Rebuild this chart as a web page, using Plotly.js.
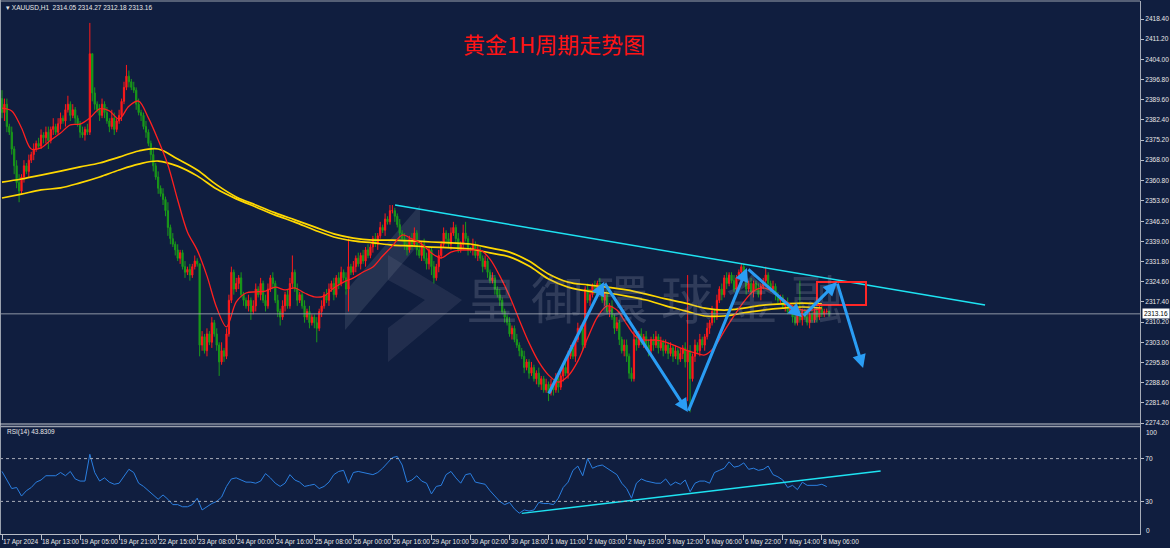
<!DOCTYPE html>
<html><head><meta charset="utf-8">
<script src="https://cdn.plot.ly/plotly-3.0.1.min.js"></script>
<style>html,body{margin:0;padding:0;background:#101e3f;overflow:hidden}#chart{width:1170px;height:548px}</style>
</head><body><div id="chart"></div>
<script>
// ---------------- DATA ----------------
const firstOpen = 2390;
const closes = [
2385,2388,2380,2378,2372,2366,2360,2357,2362,2366,2364,2368,2370,2372,2374,2373,
2377,2376,2378,2375,2379,2380,2378,2381,2383,2382,2386,2388,2384,2386,2383,2381,
2378,2377,2379,2378,2406,2392,2388,2386,2384,2388,2385,2382,2380,2383,2379,2382,
2384,2389,2394,2398,2396,2394,2393,2388,2385,2384,2380,2378,2374,2370,2366,2362,
2358,2356,2354,2350,2344,2340,2338,2336,2333,2335,2330,2328,2329,2327,2330,2332,
2331,2302,2305,2300,2306,2303,2310,2306,2302,2296,2300,2298,2306,2318,2328,2322,
2324,2326,2320,2318,2316,2318,2314,2316,2322,2320,2324,2318,2316,2322,2326,2324,
2318,2314,2312,2316,2320,2316,2324,2328,2322,2318,2320,2316,2312,2314,2310,2312,
2310,2308,2314,2316,2320,2318,2322,2324,2320,2326,2324,2328,2326,2322,2330,2328,
2330,2333,2331,2334,2332,2336,2334,2337,2340,2338,2341,2344,2343,2347,2346,2350,
2350,2348,2345,2342,2340,2338,2336,2340,2338,2342,2336,2334,2338,2333,2331,2336,
2330,2326,2330,2334,2338,2342,2340,2338,2342,2344,2340,2336,2338,2342,2340,2336,
2336,2338,2334,2336,2333,2330,2332,2328,2325,2326,2322,2320,2318,2314,2312,2310,
2306,2308,2304,2302,2300,2298,2294,2296,2292,2294,2290,2292,2288,2290,2286,2288,
2285,2288,2286,2290,2287,2291,2294,2292,2298,2301,2298,2304,2308,2308,2302,2322,
2318,2320,2323,2321,2324,2322,2318,2320,2314,2316,2312,2308,2310,2304,2300,2302,
2298,2292,2290,2304,2302,2306,2303,2305,2302,2300,2304,2302,2305,2301,2303,2300,
2302,2299,2301,2298,2300,2297,2299,2301,2296,2300,2290,2298,2302,2300,2304,2302,
2305,2308,2310,2314,2312,2318,2322,2320,2326,2324,2327,2325,2322,2326,2328,2330,
2326,2322,2324,2321,2324,2322,2320,2323,2325,2327,2324,2322,2323,2320,2318,2319,
2316,2317,2314,2315,2312,2310,2313,2311,2314,2312,2310,2313,2311,2314,2312,2315,
2313,2314,2314.05,2313.16
];
const upperWick = [
3,2,2,1,2,1,2,3,1,2,1,2,1,2,1,2,
2,1,2,2,1,3,1,2,2,1,2,3,1,2,1,1,
1,2,1,2,11,0,2,1,2,2,1,2,1,3,2,1,
2,1,2,4,2,1,2,1,2,1,1,2,1,1,2,1,
2,1,2,1,3,1,2,1,2,1,1,2,1,2,1,2,
1,0,2,1,2,1,2,1,2,1,3,1,2,2,2,1,
2,1,2,1,1,2,1,2,2,1,2,1,2,2,1,2,
1,2,1,2,1,2,2,6,1,2,1,1,2,1,2,1,
1,2,1,2,1,2,2,1,2,1,2,2,1,2,10,1,
2,1,2,1,2,1,2,1,1,2,1,2,1,2,1,2,
2,1,1,2,1,2,2,1,2,2,1,2,1,2,2,1,
1,2,1,2,1,2,1,2,2,2,1,2,1,3,4,1,
1,2,1,2,1,1,2,1,1,2,1,1,2,1,1,1,
2,1,1,2,1,1,2,1,1,2,1,1,2,1,1,2,
1,2,1,2,1,2,1,2,2,1,2,1,2,1,2,1,
2,2,1,2,1,2,2,1,2,1,2,1,2,1,1,2,
2,1,2,3,2,1,2,1,2,2,1,2,2,1,2,1,
2,1,2,1,2,1,2,1,2,27,2,1,2,1,2,1,
1,2,1,2,1,2,1,2,1,2,1,1,2,1,1,1,
1,2,1,2,1,1,2,1,1,3,1,1,2,1,1,1,
1,1,2,1,1,2,1,12,1,1,2,1,1,1,1,1,
1,1,1,0.22
];
const lowerWick = [
2,3,2,1,2,3,2,4,1,2,1,2,1,2,1,1,
1,2,2,3,1,2,1,1,2,1,2,1,2,1,2,1,
2,1,2,1,1,3,2,1,2,1,2,1,2,1,2,1,
1,2,1,1,2,1,1,2,1,2,1,2,1,2,2,1,
2,1,2,2,3,2,1,2,1,2,1,2,1,2,1,1,
1,4,2,1,2,1,2,1,2,5,1,2,1,1,1,2,
1,2,1,2,1,2,3,1,2,1,2,1,2,1,1,2,
1,2,3,1,2,1,1,2,1,2,1,1,2,1,2,1,
2,5,1,2,1,1,2,1,2,1,2,1,1,2,8,1,
1,2,1,2,1,2,1,1,2,1,2,1,1,2,1,1,
1,2,1,2,1,2,2,1,2,1,2,1,2,1,2,2,
3,2,1,2,1,1,2,1,2,1,2,1,1,2,1,2,
1,2,1,2,1,2,1,2,1,1,2,1,2,1,2,1,
1,2,1,1,2,1,2,1,2,1,1,2,1,2,1,1,
3,1,2,1,2,1,2,1,2,1,1,2,1,1,2,1,
1,2,1,1,2,1,1,2,1,2,1,2,1,2,1,2,
2,2,1,1,2,1,1,2,1,2,1,2,1,2,1,2,
1,2,1,2,1,2,1,2,2,14,12,1,2,1,2,1,
2,1,2,1,2,1,1,2,1,2,1,1,1,2,1,1,
1,2,1,1,2,1,1,2,1,1,2,1,1,2,1,1,
1,2,1,1,2,1,1,1,2,1,1,2,1,1,2,1,
1,1,1,0.98
];
// fast MA (red), sampled every 4 bars
const RED_MA_STEP = 4;
const redMA = [2386.6,2385.6,2379.5,2372.0,2372.4,2375.2,2377.7,2380.6,2380.9,2383.1,2386.3,2385.6,2382.7,2387.3,2389.1,2383.1,
2375.2,2366.3,2353.8,2342.4,2335.9,2326.7,2315.3,2308.5,2317.4,2320.6,2321.0,2321.3,2322.7,2321.7,2322.4,2320.6,
2319.2,2319.5,2322.4,2324.5,2326.0,2328.1,2329.9,2333.8,2337.4,2341.3,2339.9,2338.1,2334.9,2333.1,2335.2,2335.9,
2335.9,2335.9,2332.7,2326.7,2319.5,2311.0,2302.8,2296.0,2291.3,2288.8,2291.0,2296.3,2304.5,2312.0,2316.0,2314.5,
2309.5,2304.9,2303.8,2303.8,2303.1,2301.7,2300.3,2299.2,2298.5,2301.3,2307.0,2312.4,2317.4,2321.3,2322.4,2321.0,
2318.5,2316.0,2314.5,2314.5,2314.9];
// slow MAs (yellow), sampled every 8 bars
const YELLOW_STEP = 8;
const yellowMA1 = [2360.2,2361.3,2362.7,2364.1,2365.6,2367.0,2369.1,2371.3,2372.0,2368.4,2364.5,2359.2,2354.9,2352.0,2349.2,
2346.7,2344.2,2341.7,2340.2,2339.5,2339.5,2339.2,2338.8,2338.5,2338.1,2336.7,2335.2,2332.0,2327.4,2324.5,2323.5,
2322.7,2321.7,2320.2,2318.5,2317.0,2315.2,2314.5,2315.2,2316.3,2316.7,2317.0,2316.7];
const yellowMA2 = [2354.5,2355.9,2357.4,2358.1,2359.9,2362.0,2364.5,2366.6,2367.7,2365.9,2362.4,2357.7,2354.2,2351.3,2348.4,
2345.9,2343.1,2340.6,2339.2,2338.5,2337.7,2337.4,2337.0,2336.7,2336.3,2334.9,2333.5,2330.2,2325.6,2322.7,2321.3,
2320.6,2319.5,2318.1,2316.0,2314.2,2312.4,2312.4,2313.5,2314.5,2315.2,2315.6,2315.2];
// RSI(14), sampled every 2 bars
const RSI_STEP = 2;
const rsi = [58,50,42,43,35,40,43,48,50,54,54,54,57,54,58,51,49,49,74,57,49,52,48,46,47,54,60,57,47,44,40,36,
32,36,32,27,27,25,25,27,33,22,25,28,30,34,44,51,52,50,48,48,47,49,56,52,47,44,47,55,50,48,44,45,
46,42,44,48,55,58,59,47,57,58,57,56,55,57,61,66,71,72,64,48,50,54,49,47,37,44,45,55,58,52,47,55,
56,48,47,46,40,35,30,27,29,23,19,22,21,22,29,28,28,27,33,43,48,59,63,54,70,61,63,64,61,58,55,47,
42,33,47,51,49,48,47,47,51,45,48,46,50,39,47,49,49,47,57,59,61,67,62,63,66,60,61,59,60,63,55,53,
50,43,45,41,48,45,45,45,46,43.83];
const timeLabels = ["17 Apr 2024","18 Apr 13:00","19 Apr 05:00","19 Apr 21:00","22 Apr 15:00","23 Apr 08:00",
"24 Apr 00:00","24 Apr 16:00","25 Apr 08:00","26 Apr 00:00","26 Apr 16:00","29 Apr 10:00","30 Apr 02:00",
"30 Apr 18:00","1 May 11:00","2 May 03:00","2 May 19:00","3 May 12:00","6 May 06:00","6 May 22:00","7 May 14:00","8 May 06:00"];
const LABEL_EVERY = 16;
const priceTicks = [2418.40,2411.20,2404.00,2396.80,2389.60,2382.40,2375.20,2368.00,2360.80,2353.60,2346.20,
2339.00,2331.80,2324.60,2317.40,2310.20,2303.00,2295.80,2288.60,2281.40,2274.20];
const rsiLevels = [30,70];
const rsiEdgeLabels = [["100",100],["0",0]];
const lastPrice = 2313.16;
const headerText = "XAUUSD,H1  2314.05 2314.27 2312.18 2313.16";
const rsiText = "RSI(14) 43.8309";
const titleText = "黄金1H周期走势图";
const watermarkChars = ["皇","御","環","球","金","融"];
// drawn objects (bar index, price)
const trendLine = [[161.1,2352.0],[402.9,2316.3]];
const rsiTrend = [[213,18.8],[360.1,58.5]];
const zigzag = [[223.8,2284.2],[246.7,2324.5],[281.1,2278.1],[305.3,2329.5],[327.9,2312.0],[342.2,2324.5],[352.9,2293.8]];
const box = [[334.0,2316.3],[354.1,2324.5]];

// ---------------- BUILD ----------------
const W = 1170, H = 548;
const PLOT_R = 1140;            // px right edge of plotting area
const BAR_PX = 2.44, BAR0_PX = 2;
const px = v => v / W, py = v => 1 - v / H;
const xr = [(0 - BAR0_PX) / BAR_PX, (PLOT_R - BAR0_PX) / BAR_PX];

const idx = closes.map((_, i) => i);
const opens = closes.map((c, i) => i === 0 ? firstOpen : closes[i - 1]);
const highs = closes.map((c, i) => Math.max(opens[i], c) + upperWick[i]);
const lows = closes.map((c, i) => Math.min(opens[i], c) - lowerWick[i]);

const traces = [
  {type:'candlestick', x: idx, open: opens, high: highs, low: lows, close: closes,
   xaxis:'x', yaxis:'y', whiskerwidth:0, hoverinfo:'skip', showlegend:false,
   increasing:{line:{color:'#ff1a1a', width:1}, fillcolor:'#ff1a1a'},
   decreasing:{line:{color:'#1a9a1a', width:1}, fillcolor:'#1a9a1a'}},
  {type:'scatter', mode:'lines', x: yellowMA1.map((_, i) => i * YELLOW_STEP), y: yellowMA1,
   line:{color:'#ffd800', width:1.7, shape:'spline', smoothing:1}, xaxis:'x', yaxis:'y', hoverinfo:'skip', showlegend:false},
  {type:'scatter', mode:'lines', x: yellowMA2.map((_, i) => i * YELLOW_STEP), y: yellowMA2,
   line:{color:'#ffd800', width:1.7, shape:'spline', smoothing:1}, xaxis:'x', yaxis:'y', hoverinfo:'skip', showlegend:false},
  {type:'scatter', mode:'lines', x: redMA.map((_, i) => i * RED_MA_STEP), y: redMA,
   line:{color:'#ff2020', width:1.3, shape:'spline', smoothing:0.9}, xaxis:'x', yaxis:'y', hoverinfo:'skip', showlegend:false},
  {type:'scatter', mode:'lines', x: rsi.map((_, i) => Math.min(i * RSI_STEP, closes.length - 1)), y: rsi,
   line:{color:'#2b7fe0', width:1}, xaxis:'x', yaxis:'y2', hoverinfo:'skip', showlegend:false}
];

const shapes = [];
// watermark logo (translucent, behind the candles)
const P = (x, y) => px(x) + ',' + py(y);
const logoFill = 'rgba(185,190,205,0.13)';
shapes.push({type:'path', xref:'paper', yref:'paper', layer:'below', line:{width:0}, fillcolor:logoFill,
  path:'M' + P(345,292) + 'L' + P(420,205) + 'L' + P(420,243) + 'L' + P(345,330) + 'Z'});
shapes.push({type:'path', xref:'paper', yref:'paper', layer:'below', line:{width:0}, fillcolor:'rgba(185,190,205,0.10)',
  path:'M' + P(388,255) + 'L' + P(462,300) + 'L' + P(388,362) + 'L' + P(388,328) + 'L' + P(425,300) + 'L' + P(388,280) + 'Z'});
// price line
shapes.push({type:'line', xref:'x', yref:'y', x0:xr[0], x1:xr[1], y0:lastPrice, y1:lastPrice, line:{color:'#8f96a6', width:1}});
// trend lines
shapes.push({type:'line', xref:'x', yref:'y', x0:trendLine[0][0], y0:trendLine[0][1], x1:trendLine[1][0], y1:trendLine[1][1], line:{color:'#1ee3f2', width:1.5}});
shapes.push({type:'line', xref:'x', yref:'y2', x0:rsiTrend[0][0], y0:rsiTrend[0][1], x1:rsiTrend[1][0], y1:rsiTrend[1][1], line:{color:'#1ee3f2', width:1.5}});
// box
shapes.push({type:'rect', xref:'x', yref:'y', x0:box[0][0], y0:box[0][1], x1:box[1][0], y1:box[1][1], line:{color:'#ff2626', width:2}});
// rsi levels
rsiLevels.forEach(v => shapes.push({type:'line', xref:'x', yref:'y2', x0:xr[0], x1:xr[1], y0:v, y1:v, line:{color:'#a9adb8', width:1, dash:'dot'}}));
// frame
shapes.push({type:'line', xref:'paper', yref:'paper', x0:px(0.5), x1:px(0.5), y0:py(0), y1:py(535), line:{color:'#9aa1ae', width:1}});
shapes.push({type:'line', xref:'paper', yref:'paper', x0:px(0), x1:px(PLOT_R), y0:py(1), y1:py(1), line:{color:'#9aa1ae', width:1}});
shapes.push({type:'line', xref:'paper', yref:'paper', x0:px(PLOT_R + 0.5), x1:px(PLOT_R + 0.5), y0:py(1), y1:py(535), line:{color:'#a6acb8', width:1}});
shapes.push({type:'line', xref:'paper', yref:'paper', x0:px(0), x1:px(PLOT_R), y0:py(424), y1:py(424), line:{color:'#c5c9d1', width:1}});
shapes.push({type:'line', xref:'paper', yref:'paper', x0:px(0), x1:px(PLOT_R), y0:py(426.5), y1:py(426.5), line:{color:'#9aa1ae', width:1.5}});
shapes.push({type:'line', xref:'paper', yref:'paper', x0:px(0), x1:px(PLOT_R), y0:py(534.5), y1:py(534.5), line:{color:'#b7bcc6', width:1}});

const annotations = [];
const smallFont = {family:'Liberation Sans, Arial, sans-serif', size:6.5, color:'#e8e8e8'};
// watermark text
watermarkChars.forEach((ch, i) => annotations.push({xref:'paper', yref:'paper', x:px(492 + i * 65), y:py(296),
  text: ch, showarrow:false, xanchor:'center', yanchor:'middle',
  font:{family:'Noto Sans CJK TC, Noto Sans CJK SC, sans-serif', size:52, color:'rgba(165,170,185,0.22)'}}));
// title
annotations.push({xref:'paper', yref:'paper', x:px(554), y:py(43), text:titleText, showarrow:false,
  xanchor:'center', yanchor:'middle', font:{family:'Noto Sans CJK SC, sans-serif', size:22, color:'#ff1414'}});
// headers
annotations.push({xref:'paper', yref:'paper', x:px(4), y:py(8), text:'▾ ' + headerText, showarrow:false,
  xanchor:'left', yanchor:'middle', font:smallFont});
annotations.push({xref:'paper', yref:'paper', x:px(5), y:py(432), text:rsiText, showarrow:false,
  xanchor:'left', yanchor:'middle', font:smallFont});
// RSI edge labels (drawn inside the panel edges, as in the terminal)
annotations.push({xref:'paper', yref:'paper', x:px(PLOT_R + 4), y:py(432.5), text:rsiEdgeLabels[0][0], showarrow:false,
  xanchor:'left', yanchor:'middle', font:smallFont});
annotations.push({xref:'paper', yref:'paper', x:px(PLOT_R + 4), y:py(530), text:rsiEdgeLabels[1][0], showarrow:false,
  xanchor:'left', yanchor:'middle', font:smallFont});
// time labels
timeLabels.forEach((t, k) => annotations.push({xref:'x', yref:'paper', x:k * LABEL_EVERY, y:py(541.5), text:t,
  showarrow:false, xanchor:'left', yanchor:'middle', xshift:-1, font:smallFont}));
// current price tag
annotations.push({xref:'paper', yref:'y', x:px(PLOT_R + 1.5), y:lastPrice, text:lastPrice.toFixed(2), showarrow:false,
  xanchor:'left', yanchor:'middle', bgcolor:'#ffffff', borderpad:1, font:{family:'Liberation Sans, Arial, sans-serif', size:6.5, color:'#000000'}});
// zigzag arrows
for (let i = 1; i < zigzag.length; i++) {
  annotations.push({xref:'x', yref:'y', axref:'x', ayref:'y', x:zigzag[i][0], y:zigzag[i][1], ax:zigzag[i-1][0], ay:zigzag[i-1][1],
    text:'', showarrow:true, arrowhead:2, arrowsize:0.9, arrowwidth:3, arrowcolor:'#2a9df4', standoff:0, startstandoff:0});
}

const layout = {
  width: W, height: H, margin:{l:0, r:0, t:0, b:0},
  paper_bgcolor:'#101e3f', plot_bgcolor:'#101e3f', showlegend:false,
  xaxis:{domain:[0, PLOT_R / W], range:xr, anchor:'y2', showgrid:false, zeroline:false,
    rangeslider:{visible:false}, tickvals: timeLabels.map((_, k) => k * LABEL_EVERY), showticklabels:false,
    ticks:'outside', ticklen:5, tickcolor:'#b7bcc6', showline:false, fixedrange:true},
  yaxis:{domain:[py(423), py(3)], range:[2274.2, 2424.11], side:'right', anchor:'x', showgrid:false, zeroline:false,
    tickvals: priceTicks, ticktext: priceTicks.map(v => v.toFixed(2)), ticks:'outside', ticklen:3, tickcolor:'#b7bcc6',
    tickfont: smallFont, showline:false, fixedrange:true},
  yaxis2:{domain:[py(533.5), py(426.5)], range:[0, 100], side:'right', anchor:'x', showgrid:false, zeroline:false,
    tickvals: rsiLevels, ticktext: rsiLevels.map(String), ticks:'outside', ticklen:3, tickcolor:'#b7bcc6',
    tickfont: smallFont, showline:false, fixedrange:true},
  shapes, annotations
};
Plotly.newPlot('chart', traces, layout, {staticPlot:true, displayModeBar:false});
</script></body></html>
